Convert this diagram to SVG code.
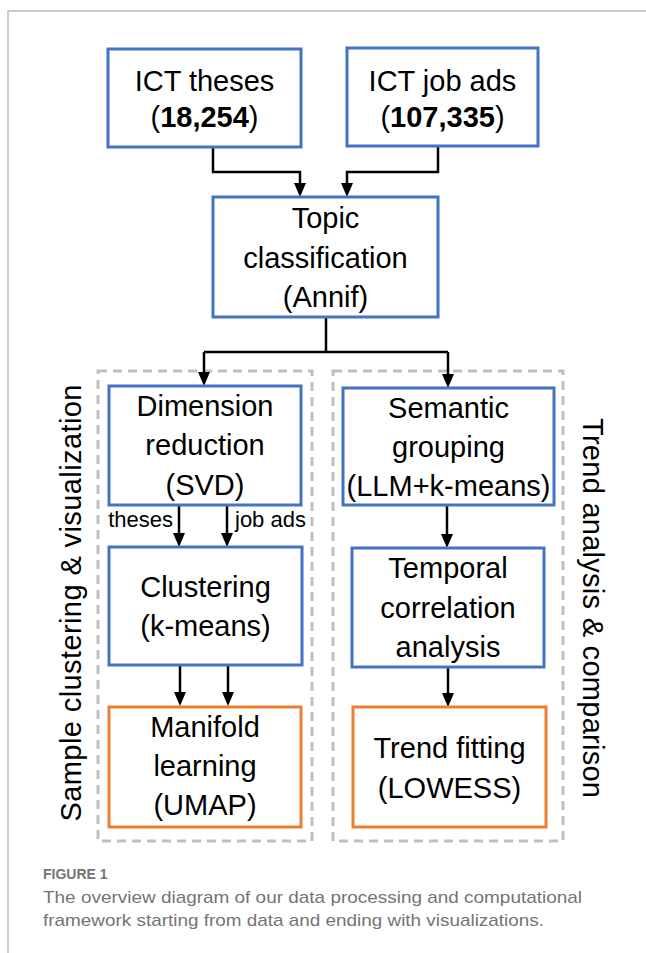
<svg xmlns="http://www.w3.org/2000/svg" width="646" height="953" viewBox="0 0 646 953">
<style>
.box{fill:#fff;stroke:#4472C4;stroke-width:3}
.obox{fill:#fff;stroke:#ED7D31;stroke-width:3}
.dash{fill:none;stroke:#BFBFBF;stroke-width:3;stroke-dasharray:9 6}
.t{font-family:"Liberation Sans",Arial,sans-serif;font-size:29px;fill:#000;text-anchor:middle}
.s{font-family:"Liberation Sans",Arial,sans-serif;font-size:22px;fill:#000}
.c{fill:none;stroke:#000;stroke-width:2.5;marker-end:url(#ah)}
.cn{fill:none;stroke:#000;stroke-width:2.5}
.cap{font-family:"Liberation Sans",Arial,sans-serif;fill:#747474}
</style>
<defs>
<marker id="ah" markerUnits="userSpaceOnUse" markerWidth="14" markerHeight="12" viewBox="0 0 14 12" refX="0" refY="6" orient="auto">
<path d="M0,0 L14,6 L0,12 Z" fill="#000"/>
</marker>
</defs>
<path d="M8,953 V11 H646" fill="none" stroke="#BBBBBB" stroke-width="1.5"/>
<g id="frames">
<rect class="dash" x="98" y="371" width="214" height="470"/>
<rect class="dash" x="333" y="371" width="230" height="470"/>
</g>
<g id="connectors">
<path class="c" d="M213,147 V172 H300 V183"/>
<path class="c" d="M438,147 V172 H347 V183"/>
<path class="cn" d="M326,317 V352 M204,352 H448"/>
<path class="c" d="M204,352 V372"/>
<path class="c" d="M448,352 V374"/>
<path class="c" d="M179,505 V533"/>
<path class="c" d="M227,505 V533"/>
<path class="c" d="M180,665 V692"/>
<path class="c" d="M228,665 V692"/>
<path class="c" d="M447,505 V534"/>
<path class="c" d="M448,667 V693"/>
</g>
<g id="theses">
<rect class="box" x="108" y="49" width="193" height="98"/>
<text class="t" x="204.5" y="91">ICT theses</text>
<text class="t" x="204.5" y="127">(<tspan font-weight="bold">18,254</tspan>)</text>
</g>
<g id="jobads">
<rect class="box" x="347" y="48" width="191" height="98"/>
<text class="t" x="442.5" y="91">ICT job ads</text>
<text class="t" x="442.5" y="127">(<tspan font-weight="bold">107,335</tspan>)</text>
</g>
<g id="topic">
<rect class="box" x="213" y="197" width="225" height="120"/>
<text class="t" x="325.5" y="228">Topic</text>
<text class="t" x="325.5" y="268">classification</text>
<text class="t" x="325.5" y="307">(Annif)</text>
</g>
<g id="dimension">
<rect class="box" x="109" y="386" width="192" height="119"/>
<text class="t" x="205" y="416">Dimension</text>
<text class="t" x="205" y="455">reduction</text>
<text class="t" x="205" y="495">(SVD)</text>
</g>
<g id="edge-labels">
<text class="s" x="173" y="527" text-anchor="end">theses</text>
<text class="s" x="235" y="527">job ads</text>
</g>
<g id="clustering">
<rect class="box" x="109" y="547" width="193" height="118"/>
<text class="t" x="205.5" y="597">Clustering</text>
<text class="t" x="205.5" y="636">(k-means)</text>
</g>
<g id="manifold">
<rect class="obox" x="109" y="707" width="192" height="120"/>
<text class="t" x="205" y="737">Manifold</text>
<text class="t" x="205" y="776">learning</text>
<text class="t" x="205" y="815">(UMAP)</text>
</g>
<g id="semantic">
<rect class="box" x="343" y="388" width="211" height="117"/>
<text class="t" x="448.5" y="418">Semantic</text>
<text class="t" x="448.5" y="457">grouping</text>
<text class="t" x="448.5" y="496">(LLM+k-means)</text>
</g>
<g id="temporal">
<rect class="box" x="352" y="548" width="192" height="119"/>
<text class="t" x="448" y="578">Temporal</text>
<text class="t" x="448" y="618">correlation</text>
<text class="t" x="448" y="657">analysis</text>
</g>
<g id="trend">
<rect class="obox" x="353" y="707" width="193" height="120"/>
<text class="t" x="449.5" y="758">Trend fitting</text>
<text class="t" x="449.5" y="798">(LOWESS)</text>
</g>
<g id="group-labels">
<text class="t" transform="translate(81,603) rotate(-90)" x="0" y="0" textLength="437" lengthAdjust="spacing">Sample clustering &amp; visualization</text>
<text class="t" transform="translate(583,608) rotate(90)" x="0" y="0" textLength="380" lengthAdjust="spacing">Trend analysis &amp; comparison</text>
</g>
<g id="caption">
<text class="cap" x="43" y="879" font-size="14" font-weight="bold" fill="#808080">FIGURE 1</text>
<text class="cap" x="43" y="903" font-size="17" textLength="539" lengthAdjust="spacingAndGlyphs">The overview diagram of our data processing and computational</text>
<text class="cap" x="43" y="926" font-size="17" textLength="501" lengthAdjust="spacingAndGlyphs">framework starting from data and ending with visualizations.</text>
</g>
</svg>
